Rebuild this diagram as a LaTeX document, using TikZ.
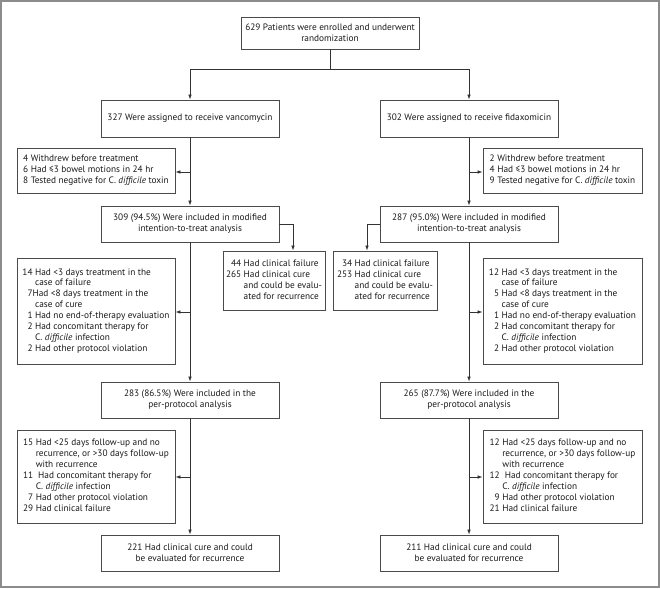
\documentclass[tikz,border=0pt]{standalone}
\usepackage{fontspec}
\setmainfont{PT Sans}
\usetikzlibrary{arrows.meta}
\definecolor{ln}{HTML}{333333}
\definecolor{bd}{HTML}{4A4A4A}
\definecolor{fr}{HTML}{8C8C8C}
\newcommand{\cdiff}{C.~\textit{difficile}}
\newenvironment{lst}{\begin{tabular}{@{}r@{\ }l@{}}}{\end{tabular}}
\begin{document}
\begin{tikzpicture}[x=1pt,y=-1pt,
  box/.style={draw=bd, line width=0.8pt, inner sep=0pt, align=center,
    font=\fontsize{9.3}{10.9}\selectfont, text=black!90},
  conn/.style={draw=ln, line width=0.7pt},
  arr/.style={conn, -{Latex[length=5pt,width=3.6pt]}},
]
\useasboundingbox (0,0) rectangle (660,588);
\draw[fr, line width=1.5pt] (1,1) rectangle (659,587);

% top
\node[box, minimum width=178, minimum height=32] (top) at (330,33)
  {629 Patients were enrolled and underwent\\randomization};
\node[box, minimum width=178, minimum height=37] (vanco) at (190,118.5)
  {327 Were assigned to receive vancomycin};
\node[box, minimum width=178, minimum height=37] (fidax) at (469,118.5)
  {302 Were assigned to receive fidaxomicin};

% exclusions
\node[box, minimum width=158, minimum height=45] (ex1) at (96,170.5)
  {\begin{lst}
   4 & Withdrew before treatment\\
   6 & Had ≤3 bowel motions in 24 hr\\
   8 & Tested negative for \cdiff{} toxin
   \end{lst}};
\node[box, minimum width=159, minimum height=45] (ex2) at (562.5,170.5)
  {\begin{lst}
   2 & Withdrew before treatment\\
   4 & Had ≤3 bowel motions in 24 hr\\
   9 & Tested negative for \cdiff{} toxin
   \end{lst}};

% mITT
\node[box, minimum width=178, minimum height=36] (mitt1) at (190,224)
  {309 (94.5\%) Were included in modified\\intention-to-treat analysis};
\node[box, minimum width=178, minimum height=36] (mitt2) at (469,224)
  {287 (95.0\%) Were included in modified\\intention-to-treat analysis};

% clinical failure boxes
\node[box, minimum width=102, minimum height=59] (cf1) at (274,280.5)
  {\begin{lst}
   44 & Had clinical failure\\
   265 & Had clinical cure\\
       & and could be evalu-\\
       & ated for recurrence
   \end{lst}};
\node[box, minimum width=104, minimum height=59] (cf2) at (385,280.5)
  {\begin{lst}
   34 & Had clinical failure\\
   253 & Had clinical cure\\
       & and could be evalu-\\
       & ated for recurrence
   \end{lst}};

% violations
\node[box, minimum width=158, minimum height=106] (viol1) at (96,311)
  {\begin{lst}
   14 & Had <3 days treatment in the\\
      & case of failure\\
   \multicolumn{2}{@{}l@{}}{\phantom{1}7Had <8 days treatment in the}\\
      & case of cure\\
   1 & Had no end-of-therapy evaluation\\
   2 & Had concomitant therapy for\\
     & \cdiff{} infection\\
   2 & Had other protocol violation
   \end{lst}};
\node[box, minimum width=159, minimum height=106] (viol2) at (562.5,311)
  {\begin{lst}
   12 & Had <3 days treatment in the\\
      & case of failure\\
   5 & Had <8 days treatment in the\\
      & case of cure\\
   1 & Had no end-of-therapy evaluation\\
   2 & Had concomitant therapy for\\
     & \cdiff{} infection\\
   2 & Had other protocol violation
   \end{lst}};

% per protocol
\node[box, minimum width=178, minimum height=36] (pp1) at (190,400)
  {283 (86.5\%) Were included in the\\per-protocol analysis};
\node[box, minimum width=178, minimum height=36] (pp2) at (469,400)
  {265 (87.7\%) Were included in the\\per-protocol analysis};

% follow-up
\node[box, minimum width=158, minimum height=93] (fu1) at (96,476.5)
  {\begin{lst}
   15 & Had <25 days follow-up and no\\
      & recurrence, or >30 days follow-up\\
      & with recurrence\\
   11 & \ Had concomitant therapy for\\
      & \cdiff{} infection\\
   7 & Had other protocol violation\\
   29 & Had clinical failure
   \end{lst}};
\node[box, minimum width=159, minimum height=93] (fu2) at (562.5,476.5)
  {\begin{lst}
   12 & Had <25 days follow-up and no\\
      & recurrence, or >30 days follow-up\\
      & with recurrence\\
   12 & \ Had concomitant therapy for\\
      & \cdiff{} infection\\
   9 & Had other protocol violation\\
   21 & Had clinical failure
   \end{lst}};

% final
\node[box, minimum width=178, minimum height=36] (fin1) at (190,553)
  {221 Had clinical cure and could\\be evaluated for recurrence};
\node[box, minimum width=178, minimum height=36] (fin2) at (469,553)
  {211 Had clinical cure and could\\be evaluated for recurrence};

% connectors
\coordinate (split) at (330,69);
\draw[conn] (top) -- (split);
\draw[arr] (split) -| (vanco);
\draw[arr] (split) -| (fidax);

\coordinate (l1) at (190,172);
\coordinate (r1) at (469,172);
\draw[arr] (vanco) -- (mitt1);
\draw[arr] (fidax) -- (mitt2);
\draw[arr] (l1) -- (l1 -| ex1.east);
\draw[arr] (r1) -- (r1 -| ex2.west);

\coordinate (bl) at (293,224);
\coordinate (br) at (367,224);
\draw[arr] (mitt1.east) -- (bl) -- (bl |- cf1.north);
\draw[arr] (mitt2.west) -- (br) -- (br |- cf2.north);

\coordinate (l2) at (190,312);
\coordinate (r2) at (469,312);
\draw[arr] (mitt1) -- (pp1);
\draw[arr] (mitt2) -- (pp2);
\draw[arr] (l2) -- (l2 -| viol1.east);
\draw[arr] (r2) -- (r2 -| viol2.west);

\coordinate (l3) at (190,477);
\coordinate (r3) at (469,477);
\draw[arr] (pp1) -- (fin1);
\draw[arr] (pp2) -- (fin2);
\draw[arr] (l3) -- (l3 -| fu1.east);
\draw[arr] (r3) -- (r3 -| fu2.west);
\end{tikzpicture}
\end{document}
